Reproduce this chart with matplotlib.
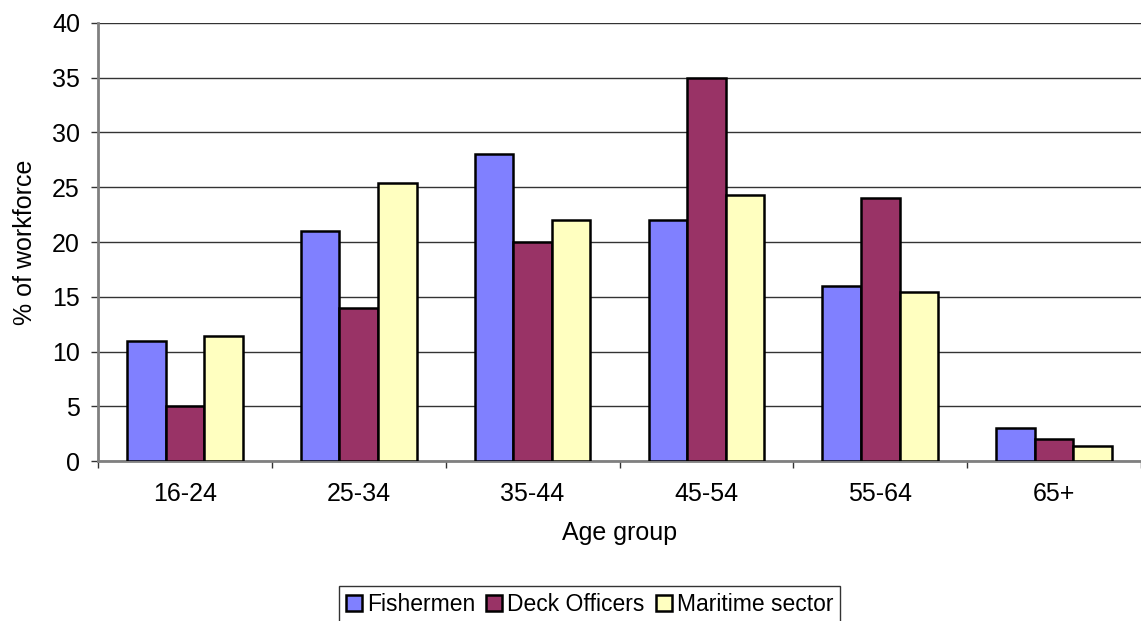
import numpy as np
import matplotlib
matplotlib.use("Agg")
import matplotlib.pyplot as plt
from matplotlib.patches import Patch

plt.rcParams['font.family'] = ['Liberation Sans', 'DejaVu Sans']

# Share of workforce by age group
age_groups = ["16-24", "25-34", "35-44", "45-54", "55-64", "65+"]
fishermen = [11, 21, 28, 22, 16, 3]
deck_officers = [5, 14, 20, 35, 24, 2]
maritime_sector = [11.4, 25.4, 22, 24.3, 15.4, 1.4]

series = [
    ("Fishermen", fishermen, "#8080ff"),
    ("Deck Officers", deck_officers, "#993366"),
    ("Maritime sector", maritime_sector, "#ffffc0"),
]

fig = plt.figure(figsize=(11.41, 6.21), dpi=100)
ax = fig.add_axes([0.0859, 0.2576, 0.9141, 0.7054])

x = np.arange(len(age_groups))
bar_w = 0.222
for i, (name, vals, col) in enumerate(series):
    ax.bar(x + (i - 1) * bar_w, vals, width=bar_w, color=col,
           edgecolor="black", linewidth=1.8, zorder=3)

ax.set_xlim(-0.5, len(age_groups) - 0.5)
ax.set_ylim(0, 40)
ax.set_yticks(range(0, 41, 5))
ax.yaxis.grid(True, color="#333333", linewidth=1.0, zorder=0)

# category labels centred, tick marks at the group boundaries
ax.set_xticks(x)
ax.set_xticklabels(age_groups, fontsize=18)
ax.set_xticks(np.arange(len(age_groups) + 1) - 0.5, minor=True)
ax.tick_params(axis="x", which="major", length=0, pad=15)
ax.tick_params(axis="x", which="minor", length=5, width=1, color="#333333", direction="out")
ax.tick_params(axis="y", labelsize=18, length=5, width=1, color="#333333", direction="out", pad=8)

for s in ["top", "right"]:
    ax.spines[s].set_visible(False)
for s in ["left", "bottom"]:
    ax.spines[s].set_color("#808080")
    ax.spines[s].set_linewidth(2)

ax.set_xlabel("Age group", fontsize=18, labelpad=11)
ax.set_ylabel("% of workforce", fontsize=18, labelpad=11)

handles = [Patch(facecolor=c, edgecolor="black", linewidth=1.8, label=n) for n, _, c in series]
leg = fig.legend(handles=handles, loc="upper center", bbox_to_anchor=(0.5167, 0.0564),
                 ncol=3, fontsize=16.5, frameon=True, fancybox=False,
                 handlelength=0.7, handleheight=0.7, handletextpad=0.2,
                 columnspacing=0.5, borderpad=0.3, borderaxespad=0)
leg.get_frame().set_edgecolor("black")
leg.get_frame().set_linewidth(1.0)

fig.savefig("out.png", dpi=100)
